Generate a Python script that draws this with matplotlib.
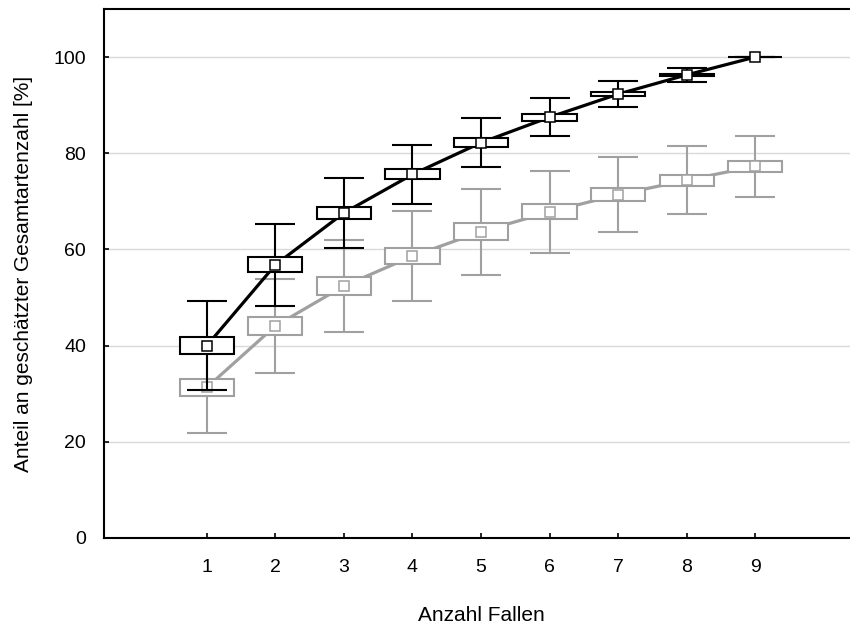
import matplotlib
matplotlib.use("Agg")
import matplotlib.pyplot as plt

plt.rcParams['font.family'] = ['Liberation Sans', 'DejaVu Sans']

# number of traps (x positions)
fallen = [1, 2, 3, 4, 5, 6, 7, 8, 9]

# black series: mean, standard error (box), standard deviation (whiskers)
black_mean = [40.0, 56.8, 67.6, 75.6, 82.2, 87.5, 92.3, 96.3, 100.0]
black_se = [1.7, 1.55, 1.3, 1.05, 0.95, 0.77, 0.45, 0.28, 0.0]
black_sd = [9.3, 8.5, 7.3, 6.2, 5.1, 4.0, 2.75, 1.45, 0.0]

# grey series
grey_mean = [31.3, 44.1, 52.4, 58.6, 63.7, 67.8, 71.4, 74.4, 77.3]
grey_se = [1.75, 1.9, 1.77, 1.66, 1.7, 1.56, 1.42, 1.18, 1.14]
grey_sd = [9.5, 9.7, 9.5, 9.35, 8.95, 8.45, 7.8, 7.05, 6.3]

yticks = [0, 20, 40, 60, 80, 100]

fig = plt.figure(figsize=(8.5, 6.27), dpi=100)
# axes runs a bit past the right edge of the figure, like the original
ax = fig.add_axes([104 / 850, 89 / 627, 754 / 850, 529 / 627])


def draw_series(mean, se, sd, col, z):
    ax.plot(fallen, mean, color=col, lw=2.3, zorder=z, solid_capstyle='butt')
    ax.errorbar(fallen, mean, yerr=sd, fmt='none', ecolor=col, elinewidth=1.5,
                capsize=14.4, capthick=1.5, zorder=z + 1)
    lo = [m - s for m, s in zip(mean, se)]
    hi = [2 * s for s in se]
    ax.bar(fallen, hi, bottom=lo, width=0.79, color='white', edgecolor=col,
           linewidth=1.5, zorder=z + 2)
    ax.plot(fallen, mean, ls='none', marker='s', ms=7, mfc='white', mec=col,
            mew=1.1, zorder=z + 3)


draw_series(grey_mean, grey_se, grey_sd, '#a0a0a0', 3)
draw_series(black_mean, black_se, black_sd, 'black', 10)

ax.set_xlim(-0.5, 10.5)
ax.set_ylim(0, 110)
ax.set_xticks(fallen)
ax.set_yticks(yticks)
ax.yaxis.grid(True, color='#d9d9d9', lw=1)
ax.set_axisbelow(True)
ax.spines['right'].set_visible(False)
for s in ['left', 'bottom', 'top']:
    ax.spines[s].set_linewidth(1.5)
ax.tick_params(direction='in', length=3.5, width=1.2, labelsize=14)
ax.tick_params(axis='y', pad=13)
ax.tick_params(axis='x', pad=15)

ax.set_xlabel('Anzahl Fallen', fontsize=15, labelpad=22)
ax.set_ylabel('Anteil an geschätzter Gesamtartenzahl [%]', fontsize=15, labelpad=14.8)

fig.savefig('out.png', dpi=100)
